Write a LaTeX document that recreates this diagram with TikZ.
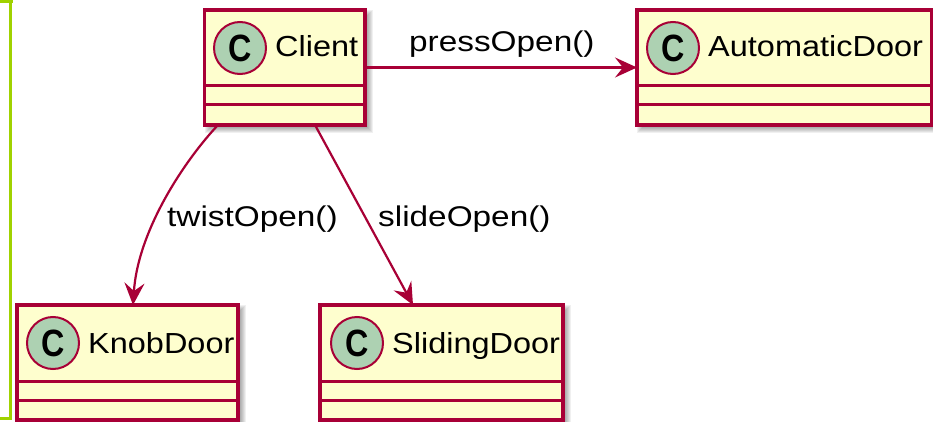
\documentclass[tikz,border=0pt]{standalone}
\usepackage{fontspec}
\setmainfont{Liberation Sans}
\newfontfamily\umlfont[FakeStretch=1.12]{Liberation Sans}
\newfontfamily\rlfont[FakeStretch=1.17]{Liberation Sans}
\usetikzlibrary{arrows.meta,backgrounds}

\definecolor{umlborder}{HTML}{A80036}
\definecolor{umlfill}{HTML}{FEFECE}
\definecolor{umlspot}{HTML}{ADD1B2}
\definecolor{frameline}{RGB}{160,210,0}

\tikzset{
  classbox/.style={rectangle, draw=umlborder, fill=umlfill, line width=3.2pt,
    inner sep=0pt, outer sep=0pt, minimum height=115pt},
  sepline/.style={draw=umlborder, line width=3pt},
  spot/.style={circle, draw=umlborder, fill=umlspot, line width=2pt,
    minimum size=52pt, inner sep=0pt, outer sep=0pt,
    font=\fontsize{38}{40}\selectfont\bfseries},
  cname/.style={anchor=base west, inner sep=0pt, font=\umlfont\fontsize{29}{34}\selectfont},
  rlabel/.style={anchor=base west, inner sep=0pt, font=\rlfont\fontsize{28.5}{34}\selectfont},
  rel/.style={draw=umlborder, line width=2.2pt,
    -{Stealth[length=22pt,width=20pt,inset=8pt]}},
}

% soft shadow below and to the right of a class box
\newcommand\boxshadow[1]{%
  \begin{scope}[on background layer]
    \foreach \k in {0,...,6}{
      \fill[black,opacity=0.06]
        ([shift={({(6-\k)*1pt},{(\k-6)*1pt})}]#1.north west) rectangle
        ([shift={({(2+\k)*1pt},{(-2-\k)*1pt})}]#1.south east);
    }
  \end{scope}}

% two empty compartments under the class header
\newcommand\compartments[1]{%
  \draw[sepline] ([yshift=-76pt]#1.north west) -- ([yshift=-76pt]#1.north east);
  \draw[sepline] ([yshift=-95pt]#1.north west) -- ([yshift=-95pt]#1.north east);}

\begin{document}
\begin{tikzpicture}[x=1pt,y=-1pt]
  \useasboundingbox (0,0) rectangle (933,422);
  \begin{scope}[on background layer]
    \fill[white] (0,0) rectangle (933,422);
  \end{scope}

  % package frame edge on the left
  \draw[frameline, line width=3pt] (0,2) -- (13,2);
  \draw[frameline, line width=3pt] (10,2) -- (10,418) -- (0,418);

  % Client
  \node[classbox, minimum width=160.5pt] (client) at (284.75,67.5) {};
  \boxshadow{client}
  \compartments{client}
  \node[spot] (clientspot) at (240,48) {\scalebox{0.85}[1]{C}};
  \node[cname] (clientname) at (275,57) {Client};

  % AutomaticDoor
  \node[classbox, minimum width=295pt] (autodoor) at (784.5,67.5) {};
  \boxshadow{autodoor}
  \compartments{autodoor}
  \node[spot] (autodoorspot) at (673,48) {\scalebox{0.85}[1]{C}};
  \node[cname] (autodoorname) at (708,57) {AutomaticDoor};

  % KnobDoor
  \node[classbox, minimum width=221pt] (knob) at (127.5,362.5) {};
  \boxshadow{knob}
  \compartments{knob}
  \node[spot] (knobspot) at (53,343) {\scalebox{0.85}[1]{C}};
  \node[cname] (knobname) at (88,353) {KnobDoor};

  % SlidingDoor
  \node[classbox, minimum width=243pt] (sliding) at (441.5,362.5) {};
  \boxshadow{sliding}
  \compartments{sliding}
  \node[spot] (slidingspot) at (357,343) {\scalebox{0.85}[1]{C}};
  \node[cname] (slidingname) at (392,353) {SlidingDoor};

  % relations
  \draw[rel] (client.east) -- (autodoor.west);
  \draw[rel] ([xshift=13.5pt]client.south west)
    .. controls +(-33,35) and +(5,-75) .. ([xshift=116pt]knob.north west);
  \draw[rel] ([xshift=110.5pt]client.south west) -- ([xshift=93pt]sliding.north west);

  \node[rlabel] (presslabel) at (409,52) {pressOpen()};
  \node[rlabel] (twistlabel) at (167,226) {twistOpen()};
  \node[rlabel] (slidelabel) at (378,226) {slideOpen()};
\end{tikzpicture}
\end{document}
